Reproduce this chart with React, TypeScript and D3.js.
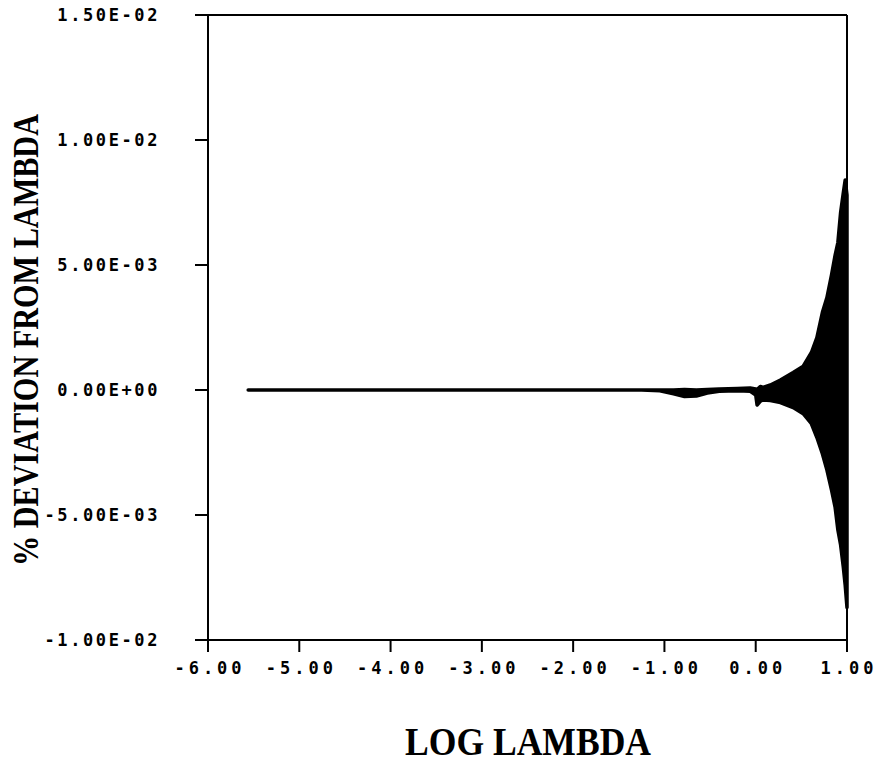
import React from "react";
import * as d3 from "d3";

// Data (x = log lambda, envelope values in units of 1e-3)
const xValues = [-5.56, -2.0, -1.25, -1.05, -0.9, -0.78, -0.65, -0.53, -0.4, -0.2, -0.06, 0.0, 0.015, 0.05, 0.08, 0.16, 0.27, 0.41, 0.52, 0.61, 0.67, 0.73, 0.78, 0.83, 0.87, 0.9, 0.93, 0.96, 0.98, 1.0];
const upperE3 = [0, 0, 0, 0, 0.0, 0.02, 0.0, 0.02, 0.04, 0.06, 0.08, 0.04, 0.02, 0.14, 0.1, 0.2, 0.4, 0.7, 0.95, 1.5, 2.1, 3.1, 3.7, 4.6, 5.4, 5.9, 7.1, 7.9, 8.4, 7.8];
const lowerE3 = [0, 0, 0, -0.03, -0.15, -0.26, -0.24, -0.12, -0.05, -0.03, -0.05, -0.2, -0.6, -0.45, -0.4, -0.42, -0.5, -0.7, -0.95, -1.35, -1.9, -2.55, -3.2, -4.0, -4.7, -5.6, -6.2, -7.1, -7.8, -8.7];

const xTicks = [-6, -5, -4, -3, -2, -1, 0, 1];
const xTickLabels = ["-6.00", "-5.00", "-4.00", "-3.00", "-2.00", "-1.00", "0.00", "1.00"];
const yTicks = [-0.01, -0.005, 0, 0.005, 0.01, 0.015];
const yTickLabels = ["-1.00E-02", "-5.00E-03", "0.00E+00", "5.00E-03", "1.00E-02", "1.50E-02"];

const W = 877;
const H = 762;

export default function App() {
  const x = d3.scaleLinear().domain([-6, 1]).range([208, 847]);
  const y = d3.scaleLinear().domain([-0.01, 0.015]).range([640, 15]);

  const pts = xValues.map((v, i) => ({ x: v, hi: upperE3[i] * 1e-3, lo: lowerE3[i] * 1e-3 }));
  const area = d3
    .area<{ x: number; hi: number; lo: number }>()
    .x((d) => x(d.x))
    .y0((d) => y(d.lo))
    .y1((d) => y(d.hi))
    .curve(d3.curveLinear);

  const tickFont = "'DejaVu Sans Mono', monospace";
  const x0 = x(-6);
  const x1 = x(1);
  const yTop = y(0.015);
  const yBot = y(-0.01);

  return (
    <svg
      width={W}
      height={H}
      viewBox={`0 0 ${W} ${H}`}
      style={{ position: "absolute", left: 0, top: 0, background: "#fff" }}
    >
      <rect x={0} y={0} width={W} height={H} fill="#fff" />
      {/* frame */}
      <line x1={x0} y1={yTop} x2={x1} y2={yTop} stroke="#000" strokeWidth={2} />
      <line x1={x1} y1={yTop} x2={x1} y2={yBot + 12} stroke="#000" strokeWidth={2} />
      <line x1={x0} y1={yTop} x2={x0} y2={yBot + 12} stroke="#000" strokeWidth={2} />
      <line x1={x0} y1={yBot} x2={x1} y2={yBot} stroke="#000" strokeWidth={2} />

      {/* y ticks */}
      {yTicks.map((t, i) => (
        <g key={"y" + i}>
          <line x1={x0 - 13} x2={x0} y1={y(t)} y2={y(t)} stroke="#000" strokeWidth={2} />
          <text
            x={160}
            y={y(t) + 6}
            textAnchor="end"
            fontFamily={tickFont}
            fontWeight="bold"
            fontSize={17}
            letterSpacing={2.6}
            fill="#000"
          >
            {yTickLabels[i]}
          </text>
        </g>
      ))}

      {/* x ticks */}
      {xTicks.map((t, i) => (
        <g key={"x" + i}>
          <line x1={x(t)} x2={x(t)} y1={yBot} y2={yBot + 12} stroke="#000" strokeWidth={2} />
          <text
            x={x(t) + 2}
            y={674}
            textAnchor="middle"
            fontFamily={tickFont}
            fontWeight="bold"
            fontSize={17}
            letterSpacing={4}
            fill="#000"
          >
            {xTickLabels[i]}
          </text>
        </g>
      ))}

      {/* data */}
      <path d={area(pts) || ""} fill="#000" stroke="#000" strokeWidth={3.5} strokeLinejoin="round" />

      {/* axis titles */}
      <text
        x={528}
        y={755}
        textAnchor="middle"
        fontFamily="'Liberation Serif', 'DejaVu Serif', serif"
        fontWeight="bold"
        fontSize={39}
        textLength={246}
        lengthAdjust="spacingAndGlyphs"
        fill="#000"
      >
        LOG LAMBDA
      </text>
      <text
        transform="translate(38,340) rotate(-90)"
        textAnchor="middle"
        fontFamily="'Liberation Serif', 'DejaVu Serif', serif"
        fontWeight="bold"
        fontSize={36}
        textLength={452}
        lengthAdjust="spacingAndGlyphs"
        fill="#000"
      >
        % DEVIATION FROM LAMBDA
      </text>
    </svg>
  );
}
